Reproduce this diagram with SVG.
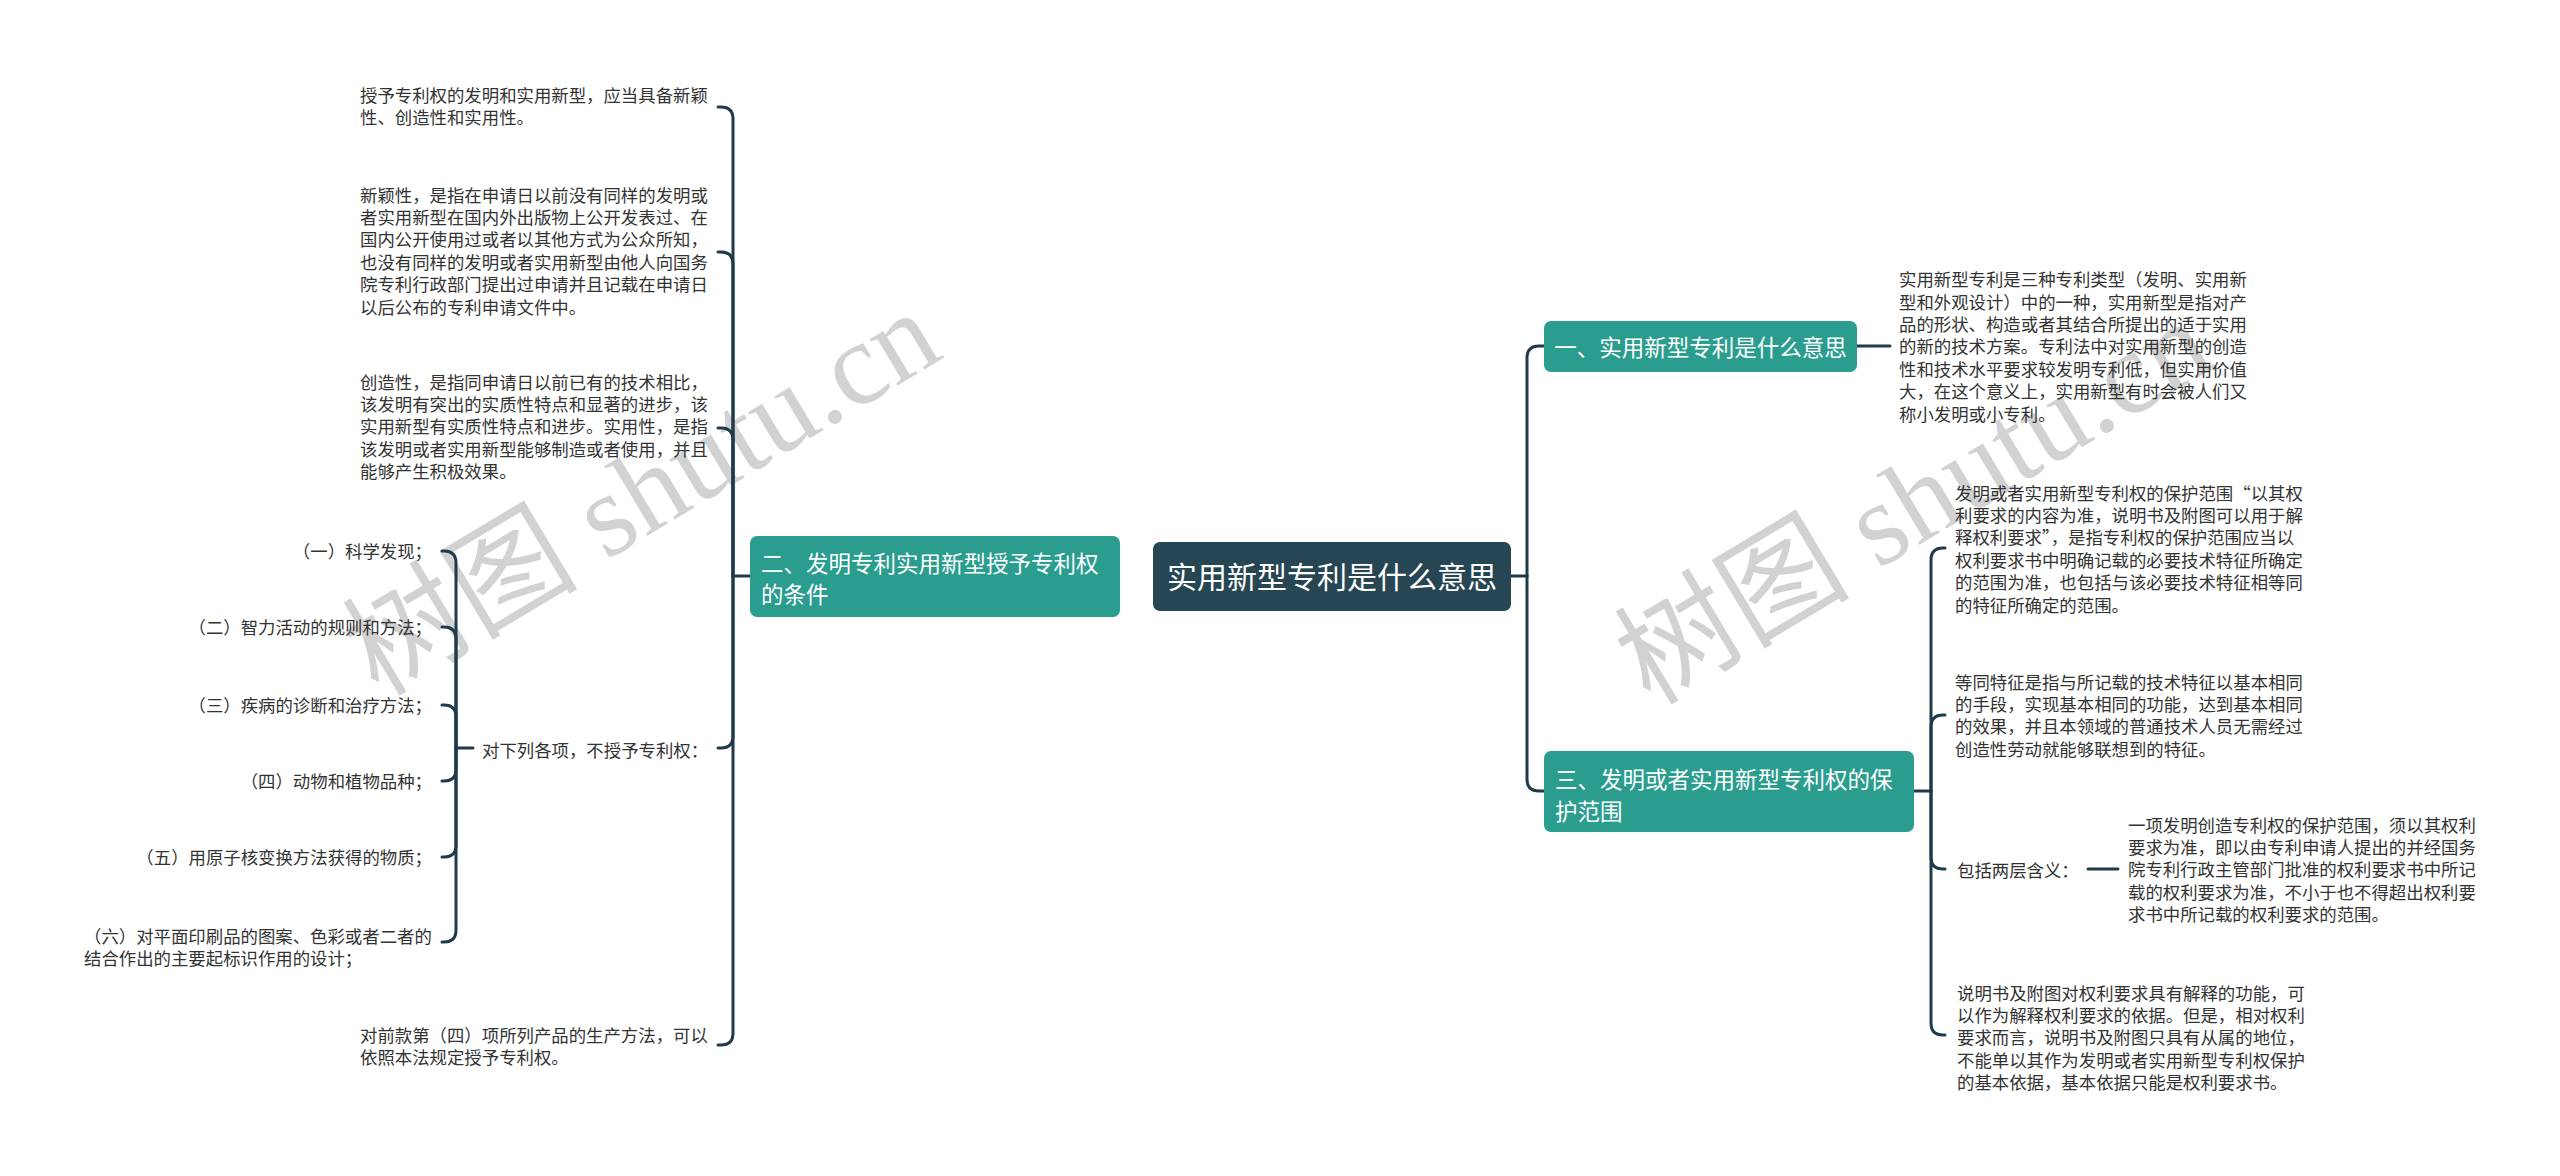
<svg xmlns="http://www.w3.org/2000/svg" width="2560" height="1176" viewBox="0 0 2560 1176">
<style>
.wm{font-family:"Liberation Serif","Noto Sans CJK SC",serif;font-size:118px;fill:#d2d2d2}
.leaf{font-family:"Noto Sans CJK SC","Noto Sans",sans-serif;font-size:17.4px;fill:#333333}
.end{text-anchor:end}
.br{font-family:"Noto Sans CJK SC","Noto Sans",sans-serif;font-size:22.5px;fill:#ffffff}
.rt{font-family:"Noto Sans CJK SC","Noto Sans",sans-serif;font-size:30px;fill:#ffffff;text-anchor:middle}
.teal{fill:#2a9d8f}
.root{fill:#264653}
.ln{fill:none;stroke:#1f3b4b;stroke-width:3;stroke-linecap:round}
</style>
<rect width="2560" height="1176" fill="#ffffff"/>
<g id="watermarks">
<text class="wm" text-anchor="middle" transform="translate(662,527) rotate(-31)">树图 shutu.cn</text>
<text class="wm" text-anchor="middle" transform="translate(1934,536) rotate(-31)">树图 shutu.cn</text>
</g>
<g id="connectors">
<path class="ln" d="M750,576 H733"/>
<path class="ln" d="M718,107 H721 Q733,107 733,119 V576"/>
<path class="ln" d="M718,252 H721 Q733,252 733,264 V576"/>
<path class="ln" d="M718,428 H721 Q733,428 733,440 V576"/>
<path class="ln" d="M718,748 H721 Q733,748 733,736 V576"/>
<path class="ln" d="M718,1045 H721 Q733,1045 733,1033 V576"/>
<path class="ln" d="M473,748 H456"/>
<path class="ln" d="M442,551 H444 Q456,551 456,563 V748"/>
<path class="ln" d="M442,627 H444 Q456,627 456,639 V748"/>
<path class="ln" d="M442,705 H444 Q456,705 456,717 V748"/>
<path class="ln" d="M442,781 H444 Q456,781 456,769 V748"/>
<path class="ln" d="M442,857 H444 Q456,857 456,845 V748"/>
<path class="ln" d="M442,942 H444 Q456,942 456,930 V748"/>
<path class="ln" d="M1511,576 H1527"/>
<path class="ln" d="M1544,346 H1539 Q1527,346 1527,358 V576"/>
<path class="ln" d="M1544,791 H1539 Q1527,791 1527,779 V576"/>
<path class="ln" d="M1857,346 H1890"/>
<path class="ln" d="M1914,791 H1931"/>
<path class="ln" d="M1945,548 H1943 Q1931,548 1931,560 V791"/>
<path class="ln" d="M1945,715 H1943 Q1931,715 1931,727 V791"/>
<path class="ln" d="M1945,869 H1943 Q1931,869 1931,857 V791"/>
<path class="ln" d="M1945,1035 H1943 Q1931,1035 1931,1023 V791"/>
<path class="ln" d="M2088,869 H2118"/>
</g>
<g id="root">
<rect class="root" x="1153" y="542" width="358" height="69" rx="7"/>
<text class="rt" x="1332" y="588.4">实用新型专利是什么意思</text>
</g>
<g id="branch2">
<rect class="teal" x="750" y="536" width="370" height="81" rx="7"/>
<text class="br" x="761" y="571.5">二、发明专利实用新型授予专利权</text>
<text class="br" x="761" y="603">的条件</text>
</g>
<g id="branch1">
<rect class="teal" x="1544" y="321" width="313" height="51" rx="7"/>
<text class="br" x="1700.5" y="355.5" text-anchor="middle">一、实用新型专利是什么意思</text>
</g>
<g id="branch3">
<rect class="teal" x="1544" y="751" width="370" height="81" rx="7"/>
<text class="br" x="1555" y="787.5">三、发明或者实用新型专利权的保</text>
<text class="br" x="1555" y="819.5">护范围</text>
</g>
<g id="leaf-l1">
<text class="leaf" x="360"><tspan x="360" y="101.6">授予专利权的发明和实用新型，应当具备新颖</tspan><tspan x="360" y="124">性、创造性和实用性。</tspan></text>
</g>
<g id="leaf-l2">
<text class="leaf"><tspan x="360" y="201.6">新颖性，是指在申请日以前没有同样的发明或</tspan><tspan x="360" y="224">者实用新型在国内外出版物上公开发表过、在</tspan><tspan x="360" y="246.4">国内公开使用过或者以其他方式为公众所知，</tspan><tspan x="360" y="268.8">也没有同样的发明或者实用新型由他人向国务</tspan><tspan x="360" y="291.2">院专利行政部门提出过申请并且记载在申请日</tspan><tspan x="360" y="313.6">以后公布的专利申请文件中。</tspan></text>
</g>
<g id="leaf-l3">
<text class="leaf"><tspan x="360" y="388.6">创造性，是指同申请日以前已有的技术相比，</tspan><tspan x="360" y="411">该发明有突出的实质性特点和显著的进步，该</tspan><tspan x="360" y="433.4">实用新型有实质性特点和进步。实用性，是指</tspan><tspan x="360" y="455.8">该发明或者实用新型能够制造或者使用，并且</tspan><tspan x="360" y="478.2">能够产生积极效果。</tspan></text>
</g>
<g id="leaf-l4">
<text class="leaf" x="482" y="756.6">对下列各项，不授予专利权：</text>
</g>
<g id="item1"><text class="leaf end" x="432" y="557.6">（一）科学发现；</text></g>
<g id="item2"><text class="leaf end" x="432" y="633.6">（二）智力活动的规则和方法；</text></g>
<g id="item3"><text class="leaf end" x="432" y="711.6">（三）疾病的诊断和治疗方法；</text></g>
<g id="item4"><text class="leaf end" x="432" y="787.6">（四）动物和植物品种；</text></g>
<g id="item5"><text class="leaf end" x="432" y="863.6">（五）用原子核变换方法获得的物质；</text></g>
<g id="item6">
<text class="leaf"><tspan x="84" y="942.6">（六）对平面印刷品的图案、色彩或者二者的</tspan><tspan x="84" y="965">结合作出的主要起标识作用的设计；</tspan></text>
</g>
<g id="leaf-l5">
<text class="leaf"><tspan x="360" y="1041.6">对前款第（四）项所列产品的生产方法，可以</tspan><tspan x="360" y="1064">依照本法规定授予专利权。</tspan></text>
</g>
<g id="leaf-r1">
<text class="leaf"><tspan x="1899" y="286.1">实用新型专利是三种专利类型（发明、实用新</tspan><tspan x="1899" y="308.5">型和外观设计）中的一种，实用新型是指对产</tspan><tspan x="1899" y="330.9">品的形状、构造或者其结合所提出的适于实用</tspan><tspan x="1899" y="353.3">的新的技术方案。专利法中对实用新型的创造</tspan><tspan x="1899" y="375.7">性和技术水平要求较发明专利低，但实用价值</tspan><tspan x="1899" y="398.1">大，在这个意义上，实用新型有时会被人们又</tspan><tspan x="1899" y="420.5">称小发明或小专利。</tspan></text>
</g>
<g id="leaf-r3a">
<text class="leaf"><tspan x="1955" y="499.6">发明或者实用新型专利权的保护范围“以其权</tspan><tspan x="1955" y="522">利要求的内容为准，说明书及附图可以用于解</tspan><tspan x="1955" y="544.4">释权利要求”，是指专利权的保护范围应当以</tspan><tspan x="1955" y="566.8">权利要求书中明确记载的必要技术特征所确定</tspan><tspan x="1955" y="589.2">的范围为准，也包括与该必要技术特征相等同</tspan><tspan x="1955" y="611.6">的特征所确定的范围。</tspan></text>
</g>
<g id="leaf-r3b">
<text class="leaf"><tspan x="1955" y="688.6">等同特征是指与所记载的技术特征以基本相同</tspan><tspan x="1955" y="711">的手段，实现基本相同的功能，达到基本相同</tspan><tspan x="1955" y="733.4">的效果，并且本领域的普通技术人员无需经过</tspan><tspan x="1955" y="755.8">创造性劳动就能够联想到的特征。</tspan></text>
</g>
<g id="leaf-r3c">
<text class="leaf" x="1957" y="876.6">包括两层含义：</text>
</g>
<g id="leaf-r3c1">
<text class="leaf"><tspan x="2128" y="831.6">一项发明创造专利权的保护范围，须以其权利</tspan><tspan x="2128" y="854">要求为准，即以由专利申请人提出的并经国务</tspan><tspan x="2128" y="876.4">院专利行政主管部门批准的权利要求书中所记</tspan><tspan x="2128" y="898.8">载的权利要求为准，不小于也不得超出权利要</tspan><tspan x="2128" y="921.2">求书中所记载的权利要求的范围。</tspan></text>
</g>
<g id="leaf-r3d">
<text class="leaf"><tspan x="1957" y="999.6">说明书及附图对权利要求具有解释的功能，可</tspan><tspan x="1957" y="1022">以作为解释权利要求的依据。但是，相对权利</tspan><tspan x="1957" y="1044.4">要求而言，说明书及附图只具有从属的地位，</tspan><tspan x="1957" y="1066.8">不能单以其作为发明或者实用新型专利权保护</tspan><tspan x="1957" y="1089.2">的基本依据，基本依据只能是权利要求书。</tspan></text>
</g>
</svg>
